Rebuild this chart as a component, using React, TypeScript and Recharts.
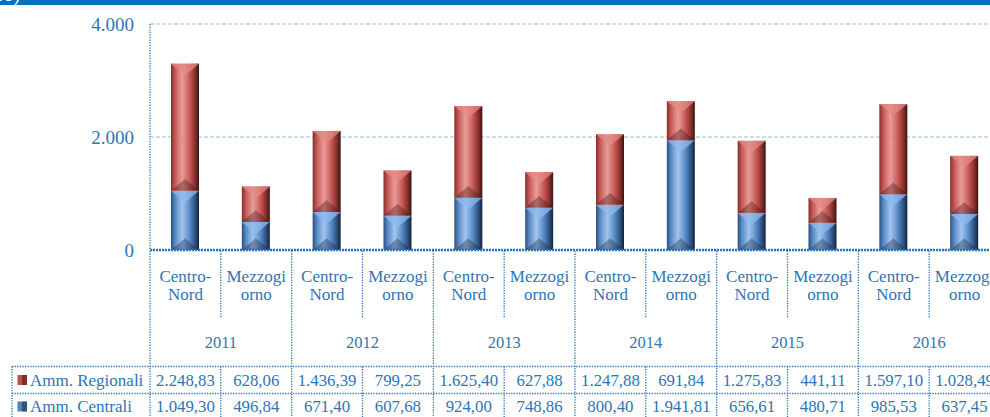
import React from 'react'
import { BarChart, Bar, XAxis, YAxis, CartesianGrid } from 'recharts'

const years = ['2011', '2012', '2013', '2014', '2015', '2016']
const areas = ['Centro-Nord', 'Mezzogiorno']
const areaLines: Record<string, string[]> = {
  'Centro-Nord': ['Centro-', 'Nord'],
  Mezzogiorno: ['Mezzogi', 'orno'],
}
const regionali = [2248.83, 628.06, 1436.39, 799.25, 1625.4, 627.88, 1247.88, 691.84, 1275.83, 441.11, 1597.1, 1028.49]
const centrali = [1049.3, 496.84, 671.4, 607.68, 924.0, 748.86, 800.4, 1941.81, 656.61, 480.71, 985.53, 637.45]
const yTicks = [0, 2000, 4000]
const seriesNames = ['Amm. Regionali', 'Amm. Centrali']

const data = years.flatMap((year, yi) =>
  areas.map((area, ai) => {
    const i = yi * 2 + ai
    return { key: `${year}-${area}`, year, area, regionali: regionali[i], centrali: centrali[i] }
  })
)

const BLUE_TEXT = '#2E75B6'
const LINE = '#2E75B6'
const FONT = '"Liberation Serif", "Times New Roman", serif'
const HALF = 850 / 12 / 2

const RED = { main: '#C0504D', light: '#E48A86', dark: '#7E2D2B', deep: '#3A1211' }
const BLUE = { main: '#4F81BD', light: '#8FBAEC', dark: '#2B4C77', deep: '#12233A' }

const fmtThousands = (s: string) => s.replace(/\B(?=(\d{3})+(?!\d))/g, '.')
const fmt = (n: number) => {
  const [a, b] = n.toFixed(2).split('.')
  return `${fmtThousands(a)},${b}`
}

const makeShape = (c: typeof RED, name: string) => (props: any) => {
  const { x, y, width: w, height: h, index } = props
  if (!h || h <= 0) return null
  const id = `${name}-${index}`
  const d = Math.min(w * 0.42, h / 2)
  return (
    <g>
      <defs>
        <linearGradient id={id} x1='0' y1='0' x2='1' y2='0'>
          <stop offset='0' stopColor={c.dark} />
          <stop offset='0.12' stopColor={c.main} />
          <stop offset='0.4' stopColor={c.light} stopOpacity={0.85} />
          <stop offset='0.7' stopColor={c.main} />
          <stop offset='0.88' stopColor={c.dark} />
          <stop offset='1' stopColor={c.deep} />
        </linearGradient>
      </defs>
      <rect x={x} y={y} width={w} height={h} fill={`url(#${id})`} />
      <polygon points={`${x},${y} ${x + w},${y} ${x + w / 2},${y + d}`} fill={c.light} opacity={0.75} />
      <polygon points={`${x},${y + h} ${x + w},${y + h} ${x + w / 2},${y + h - d}`} fill={c.deep} opacity={0.35} />
    </g>
  )
}

const YTick = (props: any) => {
  const { y, payload } = props
  return (
    <text x={134} y={y} textAnchor='end' dominantBaseline='central' fill={BLUE_TEXT} fontSize={19} fontFamily={FONT}>
      {fmtThousands(String(payload.value))}
    </text>
  )
}

const dotted = { stroke: LINE, strokeWidth: 1.3, strokeDasharray: '1.3 1.3' }

const XTick = (props: any) => {
  const { x, payload, index } = props
  const row = data[index]
  if (!row) return null
  const left = x - HALF
  const yearStart = index % 2 === 0
  return (
    <g fontFamily={FONT} fill={BLUE_TEXT}>
      {index === 0 && (
        <g>
          <line x1={12} x2={1000} y1={366.5} y2={366.5} {...dotted} />
          <line x1={12} x2={1000} y1={393.5} y2={393.5} {...dotted} />
          <line x1={12} x2={12} y1={366.5} y2={417} {...dotted} />
          {seriesNames.map((n, i) => {
            const c = i === 0 ? RED : BLUE
            const cy = 380 + i * 26.5
            return (
              <g key={n}>
                <rect x={17.5} y={cy - 5} width={9.5} height={10} fill={c.main} />
                <rect x={22} y={cy - 5} width={5} height={10} fill={c.deep} opacity={0.5} />
                <text x={30} y={cy} dominantBaseline='central' fontSize={17}>
                  {n}
                </text>
              </g>
            )
          })}
        </g>
      )}
      {yearStart ? (
        <line x1={left} x2={left} y1={251} y2={417} {...dotted} />
      ) : (
        <g>
          <line x1={left} x2={left} y1={251} y2={318} {...dotted} />
          <line x1={left} x2={left} y1={366.5} y2={417} {...dotted} />
        </g>
      )}
      {areaLines[row.area].map((t, i) => (
        <text key={i} x={x} y={276 + i * 18} textAnchor='middle' dominantBaseline='central' fontSize={17}>
          {t}
        </text>
      ))}
      {yearStart && (
        <text x={x + HALF} y={342.5} textAnchor='middle' dominantBaseline='central' fontSize={16.5}>
          {row.year}
        </text>
      )}
      <text x={x} y={380} textAnchor='middle' dominantBaseline='central' fontSize={16.8}>
        {fmt(row.regionali)}
      </text>
      <text x={x} y={406.5} textAnchor='middle' dominantBaseline='central' fontSize={16.8}>
        {fmt(row.centrali)}
      </text>
      <title>{payload.value}</title>
    </g>
  )
}

const App = () => {
  return (
    <div style={{ position: 'absolute', left: 0, top: 0, width: 990, height: 417, overflow: 'hidden', background: '#fff' }}>
      <div
        style={{
          position: 'absolute',
          left: 0,
          top: 0,
          width: 990,
          height: 5,
          background: '#0070C0',
          overflow: 'hidden',
          zIndex: 2,
        }}
      >
        <span style={{ position: 'absolute', left: -22, top: -17, color: '#fff', fontFamily: FONT, fontSize: 20 }}>
          euro)
        </span>
      </div>
      <BarChart
        width={1000}
        height={417}
        data={data}
        margin={{ top: 24, right: 0, bottom: 0, left: 0 }}
        barSize={28}
      >
        <CartesianGrid vertical={false} stroke='#95BDE6' strokeDasharray='4 2' />
        <YAxis
          width={150}
          domain={[0, 4000]}
          ticks={yTicks}
          tick={<YTick />}
          tickLine={false}
          axisLine={{ stroke: LINE, strokeWidth: 1.3, strokeDasharray: '1.3 1.3' }}
        />
        <XAxis
          dataKey='key'
          height={167}
          interval={0}
          tick={<XTick />}
          tickLine={false}
          axisLine={{ stroke: LINE, strokeWidth: 2.5, strokeDasharray: '2 1' }}
        />
        <Bar dataKey='centrali' stackId='a' fill={BLUE.main} shape={makeShape(BLUE, 'b')} isAnimationActive={false} />
        <Bar dataKey='regionali' stackId='a' fill={RED.main} shape={makeShape(RED, 'r')} isAnimationActive={false} />
      </BarChart>
    </div>
  )
}

export default App
